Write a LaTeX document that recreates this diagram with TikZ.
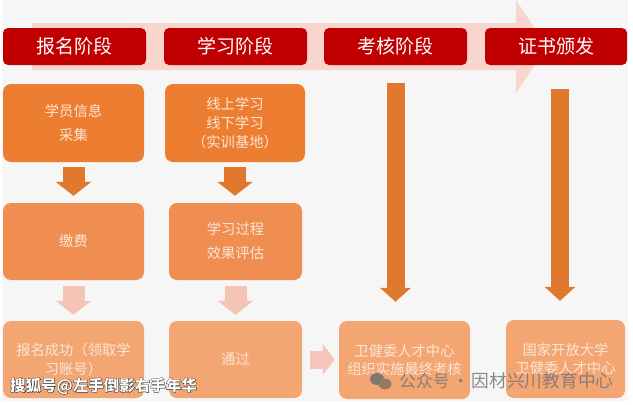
\documentclass[tikz,border=0pt]{standalone}
\usepackage{fontspec}
\setmainfont{Noto Sans CJK SC}
\usetikzlibrary{arrows.meta,calc}
\definecolor{bgc}{HTML}{F6F6F6}
\definecolor{redc}{HTML}{C00000}
\definecolor{bigc}{HTML}{F8D6CE}
\definecolor{ora}{HTML}{ED7D31}
\definecolor{orb}{HTML}{EF8E50}
\definecolor{orc}{HTML}{F3A572}
\definecolor{ard}{HTML}{E0782D}
\definecolor{arl}{HTML}{F4C5B5}
\definecolor{arr}{HTML}{F6C4BA}
\definecolor{txa}{HTML}{FBE6D6}
\definecolor{wm}{HTML}{77777A}
\tikzset{
  x=1pt,y=-1pt,
  head/.style={fill=redc,draw=none,rounded corners=5pt,inner sep=0pt,text=white,font=\fontsize{19}{22}\selectfont},
  card/.style={draw=none,rounded corners=8pt,inner sep=0pt,align=center,text=txa,font=\fontsize{14.3}{#1}\selectfont},
  card/.default=24,
  blockd/.style={line width=22pt,draw=ard,-{Triangle[width=35pt,length=14pt,fill=ard]}},
  blockl/.style={line width=22pt,draw=arl,-{Triangle[width=35pt,length=14pt,fill=arl]}},
  blocklong/.style={line width=18pt,draw=ard,-{Triangle[width=30pt,length=14pt,fill=ard]}},
  blockr/.style={line width=18pt,draw=arr,-{Triangle[width=30pt,length=12pt,fill=arr]}},
}
\begin{document}
\begin{tikzpicture}
\useasboundingbox (0,0) rectangle (633,405);
\fill[white] (0,0) rectangle (633,405);
\fill[bgc] (2,0) rectangle (628,401);
% large background arrow
\fill[bigc] (32,23) -- (516,23) -- (516,0) -- (547,47) -- (516,93) -- (516,70) -- (32,70) -- cycle;
% stage headers
\node[head,minimum width=143pt,minimum height=37pt] (h1) at (74.5,46.5) {报名阶段};
\node[head,minimum width=143pt,minimum height=37pt] (h2) at (235.5,46.5) {学习阶段};
\node[head,minimum width=143pt,minimum height=37pt] (h3) at (395.5,46.5) {考核阶段};
\node[head,minimum width=142pt,minimum height=37pt] (h4) at (556,46.5) {证书颁发};
% cards
\node[card,fill=ora,minimum width=141pt,minimum height=78pt] (a1) at (73.5,123) {学员信息\\采集};
\node[card=19,fill=ora,minimum width=140pt,minimum height=78pt] (b1) at (235,123) {线上学习\\线下学习\\（实训基地）};
\node[card,fill=orb,minimum width=141pt,minimum height=77pt] (a2) at (73.5,241.5) {缴费};
\node[card,fill=orb,minimum width=133pt,minimum height=77pt] (b2) at (235.5,241.5) {学习过程\\效果评估};
\node[card=19,fill=orc,minimum width=141pt,minimum height=77pt] (a3) at (73.5,359.5) {报名成功（领取学\\习账号）};
\node[card,fill=orc,minimum width=133pt,minimum height=77pt] (b3) at (235.5,359.5) {通过};
\node[card=18,fill=orc,minimum width=131pt,minimum height=78pt] (c3) at (404.5,360) {卫健委人才中心\\组织实施最终考核};
\node[card=18,fill=orc,minimum width=119pt,minimum height=78pt] (d3) at (565.5,359) {国家开放大学\\卫健委人才中心};
% connectors
\draw[blockd,shorten <=5pt,shorten >=7pt] (a1) -- (a2);
\draw[blockd,shorten <=5pt,shorten >=7pt] (b1) -- (b1 |- b2.north);
\draw[blockl,shorten <=6pt,shorten >=6pt] (a2) -- (a3);
\draw[blockl,shorten <=6pt,shorten >=6pt] (b2) -- (b3);
\draw[blocklong,shorten <=18pt,shorten >=19pt] (h3.south) -- (h3.south |- c3.north);
\draw[blocklong,shorten <=24pt,shorten >=19pt] ([xshift=4pt]h4.south) -- ([xshift=4pt]h4.south |- d3.north);
\draw[blockr,shorten <=8pt,shorten >=4pt] (b3.east) -- (c3.west |- b3.east);
% watermarks
\node[inner sep=0pt,anchor=west,text=white,font=\bfseries\fontsize{15.5}{18}\selectfont] (wm1) at (10,386) {\rlap{\addfontfeature{FakeBold=4}\color{black!85}搜狐号@左手倒影右手年华}搜狐号@左手倒影右手年华};
\fill[wm!90!brown] (377,379) ellipse (7pt and 6pt);
\fill[wm!60!brown] (385,384) ellipse (6.5pt and 5.5pt);
\node[inner sep=0pt,anchor=west,text=wm,opacity=.85,font=\fontsize{16.8}{20}\selectfont] (wm2) at (399,381) {公众号\hspace{2.7pt}·\hspace{2.7pt}{\fontsize{17.7}{20}\selectfont 因材兴川教育中心}};
\end{tikzpicture}
\end{document}
